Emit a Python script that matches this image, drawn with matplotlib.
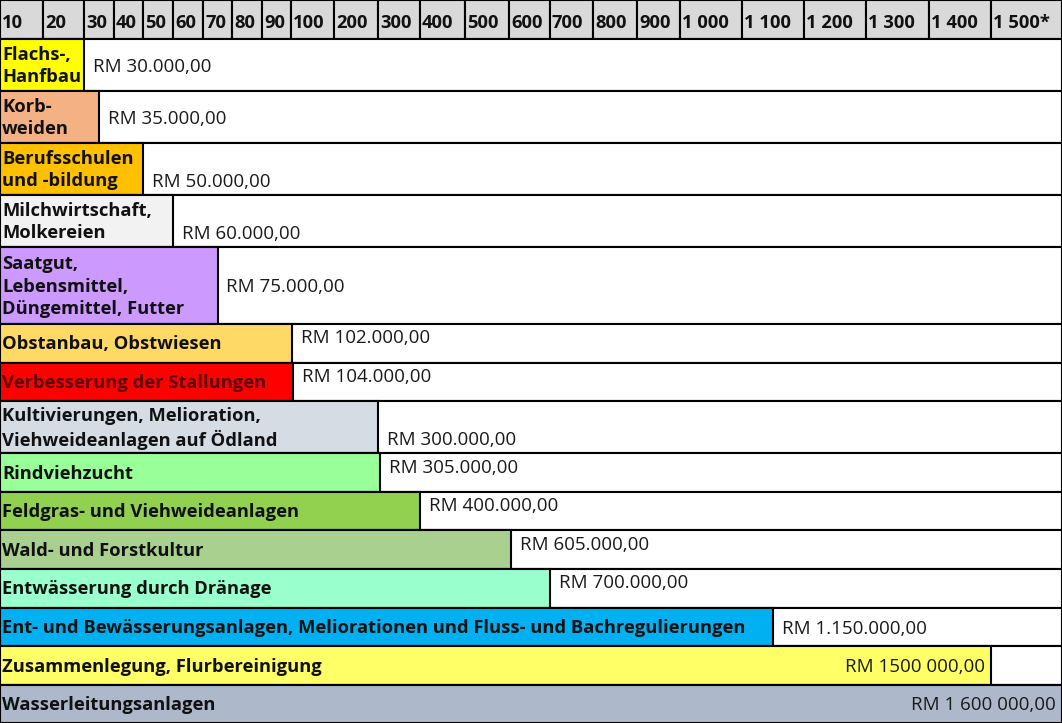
import numpy as np
import matplotlib
matplotlib.use('Agg')
import matplotlib.pyplot as plt

plt.rcParams['font.family'] = ['Open Sans', 'DejaVu Sans']

# =========================
# Data (amounts in 1000 RM)
# =========================
categories = [
    'Flachs-,\nHanfbau',
    'Korb-\nweiden',
    'Berufsschulen\nund -bildung',
    'Milchwirtschaft,\nMolkereien',
    'Saatgut,\nLebensmittel,\nDüngemittel, Futter',
    'Obstanbau, Obstwiesen',
    'Verbesserung der Stallungen',
    'Kultivierungen, Melioration,\nViehweideanlagen auf Ödland',
    'Rindviehzucht',
    'Feldgras- und Viehweideanlagen',
    'Wald- und Forstkultur',
    'Entwässerung durch Dränage',
    'Ent- und Bewässerungsanlagen, Meliorationen und Fluss- und Bachregulierungen',
    'Zusammenlegung, Flurbereinigung',
    'Wasserleitungsanlagen',
]
amounts = [30, 35, 50, 60, 75, 102, 104, 300, 305, 400, 605, 700, 1150, 1500, 1600]
amount_labels = [
    'RM 30.000,00', 'RM 35.000,00', 'RM 50.000,00', 'RM 60.000,00',
    'RM 75.000,00', 'RM 102.000,00', 'RM 104.000,00', 'RM 300.000,00',
    'RM 305.000,00', 'RM 400.000,00', 'RM 605.000,00', 'RM 700.000,00',
    'RM 1.150.000,00', 'RM 1500 000,00', 'RM 1 600 000,00',
]
scale_values = [10, 20, 30, 40, 50, 60, 70, 80, 90, 100, 200, 300, 400, 500,
                600, 700, 800, 900, 1000, 1100, 1200, 1300, 1400, 1500, 1600]
scale_labels = ['10', '20', '30', '40', '50', '60', '70', '80', '90', '100',
                '200', '300', '400', '500', '600', '700', '800', '900',
                '1 000', '1 100', '1 200', '1 300', '1 400', '1 500*']

# =========================
# Style / layout
# =========================
colors = ['#FFFF00', '#F4B183', '#FFC000', '#F2F2F2', '#CC99FF', '#FFD966',
          '#FF0000', '#D6DCE4', '#99FF99', '#92D050', '#A9D08E', '#99FFCC',
          '#00B0F0', '#FFFF66', '#ADB9CA']
text_colors = ['#111111'] * len(categories)
text_colors[6] = '#5C0000'
label_pos = ['mid', 'mid', 'low', 'low', 'mid', 'high', 'high', 'low',
             'high', 'high', 'high', 'high', 'mid', 'inside', 'inside']
pos_dy = {'mid': -2, 'low': -13, 'high': 5, 'inside': -1}

# pixel edge of every header cell (the scale is not linear)
cell_edges_px = [0, 43, 84, 114, 143, 173, 203, 232, 262, 291, 334, 378, 420,
                 465, 509, 550, 593, 637, 680, 742, 804, 866, 929, 991, 1062]
line_heights = {1: 38.6, 2: 52.0, 3: 77.0}
header_h = 39
W, H = 1062, 723
lw = 1.5
bold_size = 13.2
value_size = 13.5


def forward(v):
    return np.interp(v, scale_values, cell_edges_px)


def inverse(p):
    return np.interp(p, cell_edges_px, scale_values)


fig = plt.figure(figsize=(W / 100, H / 100), dpi=100)
ax = fig.add_axes([0, 0, 1, 1])
ax.set_xscale('function', functions=(forward, inverse))
ax.set_xlim(scale_values[0], scale_values[-1])
ax.set_ylim(H, 0)
ax.axis('off')

# header row
lefts = scale_values[:-1]
widths = np.diff(scale_values)
ax.barh(header_h / 2, widths, left=lefts, height=header_h,
        color='#D9D9D9', edgecolor='black', linewidth=lw)
for v, lab in zip(lefts, scale_labels):
    ax.annotate(lab, (v, header_h / 2), xytext=(2, -3), textcoords='offset pixels',
                ha='left', va='center', fontsize=bold_size, fontweight='bold',
                color='#111111')

# category rows
y = header_h
for i, cat in enumerate(categories):
    h = line_heights[cat.count('\n') + 1]
    yc = y + h / 2
    ax.barh(yc, scale_values[-1] - scale_values[0], left=scale_values[0],
            height=h, color='white', edgecolor='black', linewidth=lw)
    ax.barh(yc, amounts[i] - scale_values[0], left=scale_values[0],
            height=h, color=colors[i], edgecolor='black', linewidth=lw)

    ax.annotate(cat, (scale_values[0], yc), xytext=(2, -1), textcoords='offset pixels',
                ha='left', va='center', fontsize=bold_size, fontweight='bold',
                color=text_colors[i], linespacing=1.32)

    pos = label_pos[i]
    if pos == 'inside':
        ax.annotate(amount_labels[i], (amounts[i], yc), xytext=(-6, pos_dy[pos]),
                    textcoords='offset pixels', ha='right', va='center',
                    fontsize=value_size, color='#1a1a1a')
    else:
        ax.annotate(amount_labels[i], (amounts[i], yc), xytext=(9, pos_dy[pos]),
                    textcoords='offset pixels', ha='left', va='center',
                    fontsize=value_size, color='#1a1a1a')
    y += h

plt.savefig('out.png', dpi=100)
